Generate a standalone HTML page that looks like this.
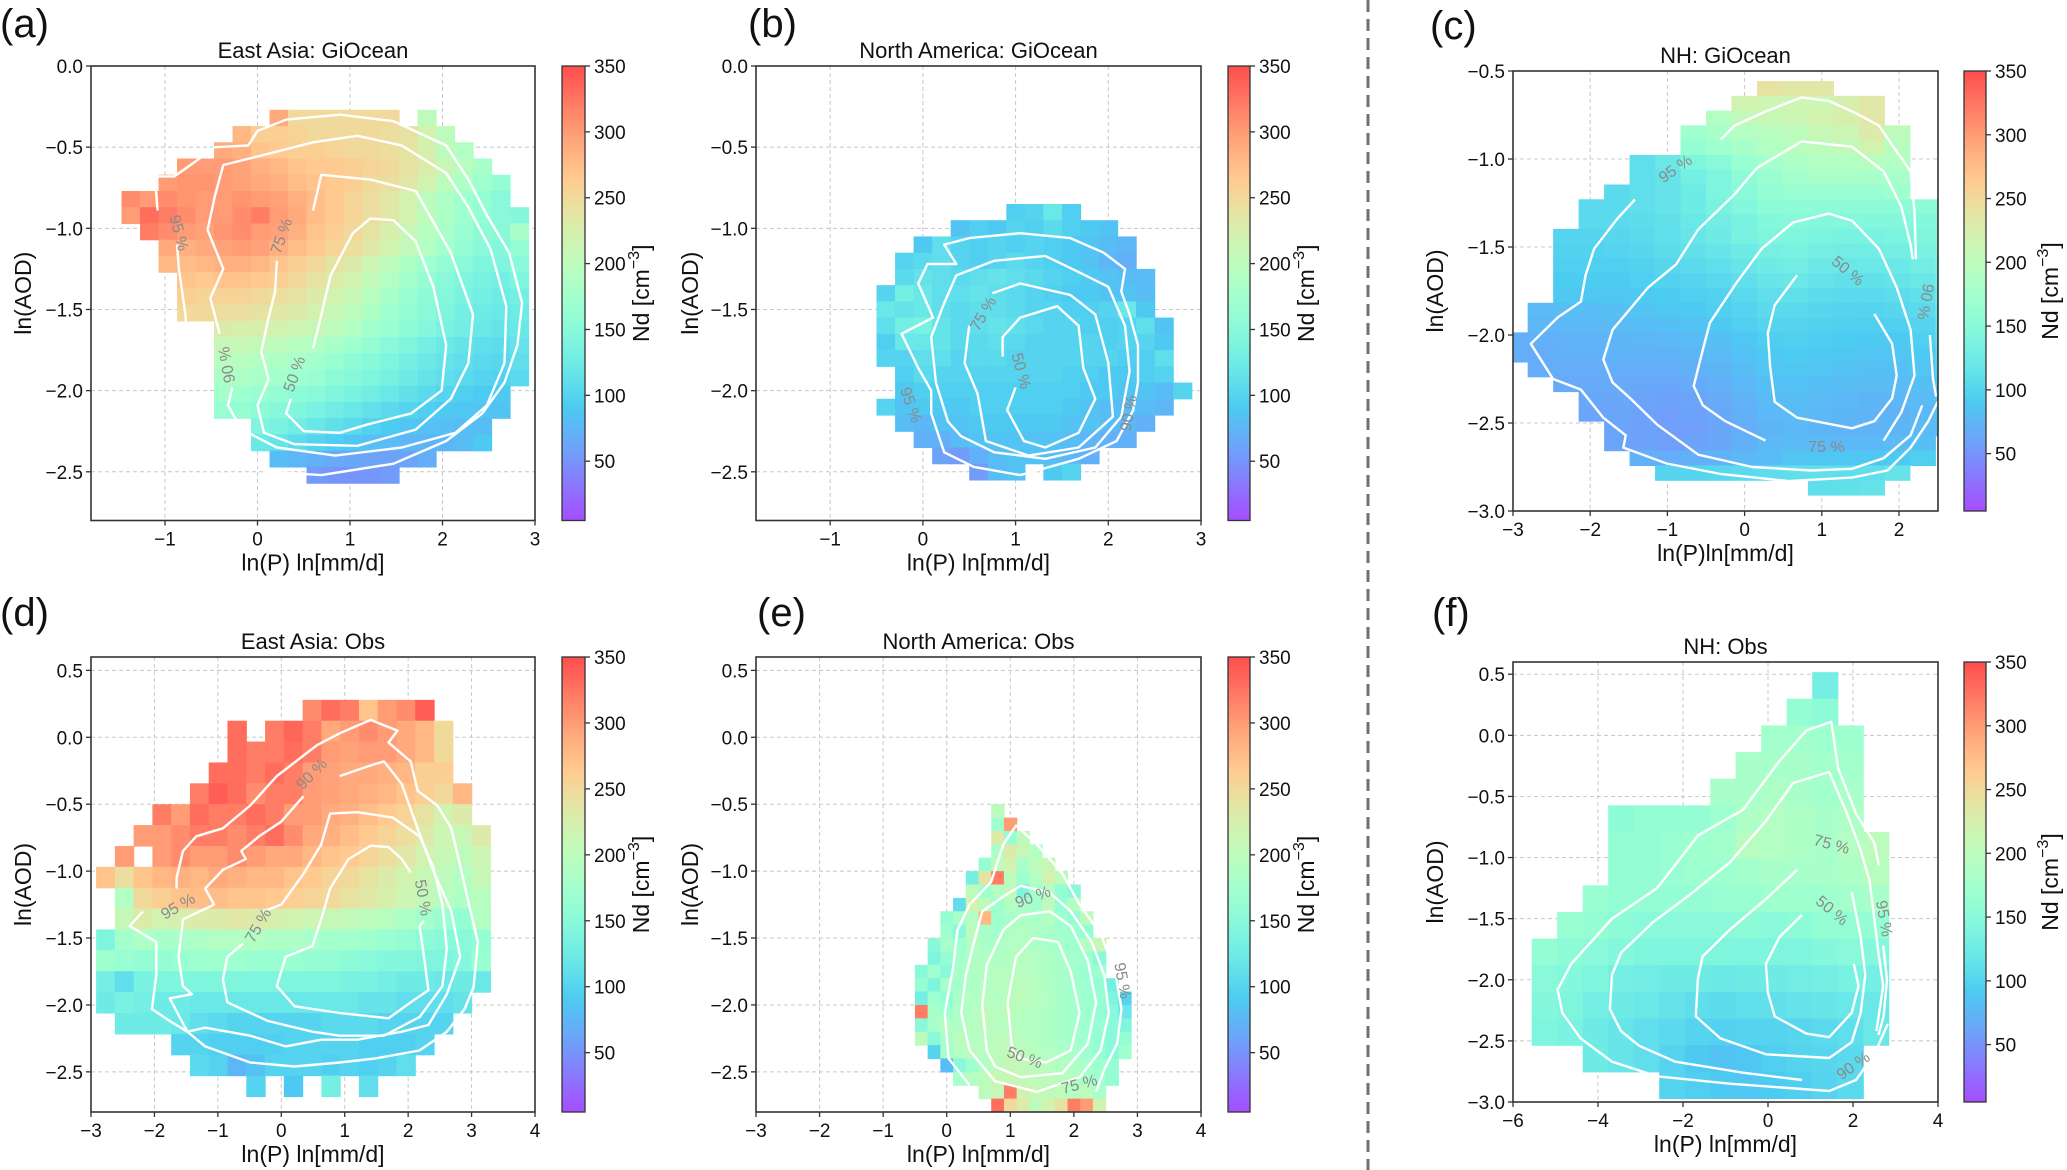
<!DOCTYPE html>
<html><head><meta charset="utf-8"><style>
html,body{margin:0;padding:0;background:#fff;}
svg{display:block;font-family:"Liberation Sans","DejaVu Sans",sans-serif;}
</style></head><body>
<svg id="fig" width="2067" height="1170" viewBox="0 0 2067 1170" xmlns="http://www.w3.org/2000/svg">
<rect width="2067" height="1170" fill="#fff"/>
<line x1="1368" y1="0" x2="1368" y2="1170" stroke="#707070" stroke-width="3" stroke-dasharray="12,7"/>
</svg>
<script>
// ===== Data (Nd values per grid cell; each row = [startCol, values...], 0 = empty) =====
const aGrid=[
[8,290,250,250,250,250,250,250,0,200],
[6,280,260,260,255,250,250,250,250,245,240,220,200],
[5,290,285,270,265,260,260,255,250,250,245,240,225,200,190],
[3,300,300,300,295,285,280,270,265,265,260,255,250,240,230,210,195,180],
[2,300,305,305,300,295,290,285,275,270,265,260,250,245,235,220,200,185,170,160],
[0,310,300,310,305,300,300,305,300,295,285,275,265,255,245,235,220,200,185,170,160,150],
[0,300,330,320,310,300,300,310,320,300,290,275,265,255,245,235,220,200,185,170,160,150,145],
[1,320,310,300,295,305,310,300,295,285,270,260,250,240,225,210,195,180,165,155,150,180],
[2,290,285,290,295,300,295,285,275,265,255,245,235,220,205,190,175,160,150,145,160],
[2,280,275,280,285,285,280,270,260,250,240,230,215,200,185,170,160,150,140,140,150],
[3,270,265,270,270,265,260,250,240,230,220,205,190,175,160,150,140,135,130,140],
[3,260,255,255,255,250,245,240,230,220,210,195,180,165,155,145,135,130,125,130],
[3,250,250,245,245,240,235,230,220,210,200,185,170,160,150,140,130,125,120,125],
[5,230,225,225,220,215,210,200,190,175,165,155,145,135,128,120,115,120],
[5,210,210,205,200,195,190,180,170,160,150,140,130,122,115,110,108,115],
[5,195,195,190,185,180,175,165,155,148,140,130,122,115,110,105,102,110],
[5,185,185,180,175,170,165,155,148,140,132,125,115,110,105,100,98,105],
[5,175,170,165,160,155,150,142,135,128,120,112,105,100,95,92,90],
[5,165,160,155,148,142,135,128,120,113,106,100,95,90,88,86,85],
[7,140,135,128,120,112,105,98,92,88,84,82,80,80],
[7,120,115,108,100,94,88,82,78,75,74,74,80,90],
[8,80,75,70,66,64,62,60,62,68],
[10,55,52,50,52,55]
];
const bGrid=[
[7,95,100,120,95],
[4,85,95,90,100,95,105,95,90,85],
[2,90,110,100,95,100,95,100,95,90,85,80,75],
[1,100,105,110,100,95,100,105,100,95,90,85,75,70],
[1,105,115,110,105,110,115,110,105,100,95,90,85,80,80],
[0,100,130,120,110,110,115,110,105,100,95,90,90,85,85,80],
[0,120,115,120,110,105,110,110,105,100,100,95,95,100,120,90],
[0,110,130,135,115,105,110,115,110,105,100,100,95,95,100,110,85],
[0,95,120,120,115,105,105,110,105,100,100,100,100,95,100,100,90],
[0,100,100,110,110,100,105,105,100,100,100,100,100,100,95,95,110],
[1,95,105,100,100,100,100,100,100,100,95,95,90,90,95,100],
[1,90,95,95,95,95,95,95,95,95,95,90,90,85,85,80,100],
[0,100,85,90,90,90,95,95,95,95,95,90,85,80,80,80,75],
[1,80,75,85,85,90,90,90,90,90,85,85,80,75,70],
[2,70,70,80,85,85,85,85,85,80,75,70,70],
[3,60,55,70,80,85,85,80,75,70],
[5,55,80,85,0,90,100]
];
const cGrid=[
[10,240,235,235],
[9,220,215,215,215,225,235],
[8,190,205,210,215,220,225,235],
[7,170,180,190,195,200,210,215,230,200],
[7,160,170,180,190,195,200,205,220,195],
[5,110,120,140,150,165,175,185,190,190,195,190],
[5,110,115,130,140,155,165,175,180,180,180,180],
[4,105,110,115,125,140,150,160,165,165,165,165,170],
[3,105,105,110,115,125,135,145,155,155,155,155,155,155,155,155],
[3,105,105,108,112,120,128,135,145,148,145,145,145,145,145,148],
[2,100,100,102,105,110,118,125,135,140,140,138,135,135,138,140,145],
[2,98,98,100,102,108,112,118,125,132,135,130,128,128,130,135,140],
[2,95,95,95,98,102,106,110,118,125,128,122,120,120,122,128,135],
[2,92,92,92,95,98,100,104,110,118,120,115,112,112,115,120,130],
[2,90,88,88,90,92,95,98,104,110,112,108,105,105,108,112,125],
[1,78,80,80,82,85,88,90,95,100,105,105,102,100,100,102,106,120],
[1,75,76,76,78,80,82,85,90,95,100,100,98,96,95,96,100,115],
[0,70,70,72,72,74,75,76,78,82,88,94,96,94,92,90,90,95,110],
[0,68,68,70,70,72,72,72,74,78,84,90,92,90,88,86,86,90,105],
[1,68,68,68,68,68,68,70,74,80,86,88,86,84,82,82,86,100],
[2,66,66,66,64,64,66,70,76,82,84,82,80,78,78,82,95],
[3,64,64,62,60,62,66,72,78,80,78,76,74,75,78,90],
[3,62,62,60,58,60,64,70,76,78,76,74,72,72,76,88],
[4,62,60,58,58,62,68,74,76,74,72,72,74,78,85],
[4,62,60,58,60,64,70,76,78,78,76,76,78,82],
[5,70,68,70,72,76,80,86,88,88,88,90,95],
[6,100,100,102,105,108,110,112,110,110,115],
[12,110,112,115]
];
const dGrid=[
[11,310,330,320,270,300,310,340],
[7,330,0,320,335,320,290,300,310,300,290,280,250],
[7,330,320,320,330,320,300,295,300,300,290,280,250],
[6,330,330,320,330,320,300,295,290,290,285,280,260,260],
[5,320,340,330,310,320,320,300,295,290,285,280,270,260,250,280],
[3,320,300,330,320,320,330,320,300,300,290,285,275,265,255,240,220,230],
[2,300,300,310,320,320,310,320,330,310,290,285,275,265,255,245,230,215,210,230],
[1,300,0,300,310,300,300,310,300,290,290,280,270,265,255,245,235,220,210,200,215],
[0,270,245,270,280,285,280,290,285,280,280,270,265,255,250,240,230,220,210,200,190,210],
[1,190,250,260,270,275,275,270,270,265,260,255,250,240,235,225,215,205,195,185,195],
[1,210,230,220,225,230,230,235,230,225,220,215,210,205,200,195,185,175,165,160,190],
[0,140,175,185,180,180,185,190,190,190,185,185,180,175,175,170,165,160,155,150,150,160],
[0,170,165,160,160,165,170,170,170,165,165,165,160,160,155,150,145,145,140,140,145,165],
[0,130,110,135,140,140,140,140,140,140,140,140,140,140,135,135,130,125,125,120,125,120],
[0,125,135,130,125,125,120,120,120,120,120,120,120,120,120,115,115,110,110,110,115],
[1,125,125,125,120,110,105,100,100,100,100,100,105,105,105,100,100,100,100],
[4,100,100,95,95,95,95,100,100,100,100,95,95,95,100],
[5,105,100,75,85,100,100,100,95,100,95,100,110],
[8,100,0,90,0,130,0,110]
];
const eGrid=[
[6,200],
[6,170,300],
[6,230,160,200],
[6,180,230,210,190],
[5,160,200,220,180,200,210],
[4,130,240,320,200,170,190,220,200],
[4,200,170,190,200,140,180,190,160,150],
[3,110,220,200,170,190,180,175,200,160,190],
[2,160,180,190,280,170,180,185,180,190,170,160,200],
[2,170,150,200,180,175,185,190,185,180,175,170,160],
[1,150,180,170,190,180,185,190,190,185,180,175,170,190,210],
[1,140,160,175,185,190,185,190,195,190,185,180,175,170,150],
[0,150,170,150,180,185,190,195,190,195,190,185,180,175,165,170],
[0,160,140,180,175,185,190,195,195,200,195,185,180,175,170,160,130],
[0,130,170,160,180,190,195,190,200,200,195,190,180,175,170,165,140,100],
[0,320,180,170,185,190,200,195,200,195,190,185,180,175,170,160,150,120],
[0,150,180,190,185,195,200,195,195,190,190,185,180,175,170,165,150,140],
[0,200,150,180,200,190,195,200,200,195,190,185,180,175,170,160,150,160],
[1,100,180,190,200,195,200,205,200,195,190,185,180,170,160,150,170],
[2,80,150,170,190,200,210,205,200,195,190,185,180,170,160],
[3,180,190,200,210,210,205,200,200,195,190,180,170,160],
[5,200,210,320,220,210,205,200,190,200,180],
[5,0,330,250,230,200,220,240,320,300,220]
];
const fGrid=[
[11,130],
[10,160,155],
[9,175,175,170,170],
[8,180,180,180,175,175],
[7,180,180,185,180,175,180],
[3,155,160,160,160,170,185,190,185,180,185],
[3,160,160,165,170,175,195,190,185,180,190,200],
[3,160,160,165,170,170,175,180,180,180,185,195],
[2,165,160,160,160,160,165,165,170,170,170,175,180],
[1,165,160,155,150,150,150,150,155,150,155,160,160,160],
[0,160,155,150,145,140,140,140,140,140,140,140,145,150,145],
[0,150,145,140,130,128,125,125,122,125,125,128,130,135,130],
[0,145,140,130,125,120,115,110,108,110,112,115,118,120,120],
[0,140,135,125,118,110,105,100,98,100,100,102,105,110,120],
[2,125,118,110,100,90,85,88,95,100,102,105],
[5,100,95,90,88,92,95,100,105]
];
// Contour lines (data coordinates [lnP, lnAOD])
const aContours=[
[[-0.87,-1.1],[-0.85,-1.25],[-0.78,-1.53],[-0.75,-1.83],[-0.66,-2.05],[-0.46,-2.24],[-0.22,-2.38],[0.12,-2.5],[0.69,-2.52],[1.47,-2.45],[2.04,-2.31],[2.43,-2.14],[2.67,-1.95],[2.81,-1.72],[2.86,-1.46],[2.72,-1.15],[2.48,-0.92],[2.28,-0.7],[2.04,-0.49],[1.47,-0.34],[0.89,-0.3],[0.31,-0.33],[0,-0.4],[-0.1,-0.49],[-0.46,-0.5],[-0.7,-0.6],[-0.9,-0.68],[-1.11,-0.68],[-1.08,-0.89]],
[[-0.27,-1.98],[-0.32,-2.09],[-0.17,-2.24],[0.21,-2.35],[0.84,-2.4],[1.56,-2.35],[2.14,-2.26],[2.48,-2.09],[2.67,-1.83],[2.69,-1.48],[2.52,-1.13],[2.28,-0.87],[2.04,-0.66],[1.56,-0.49],[1.08,-0.43],[0.6,-0.47],[0.12,-0.54],[-0.37,-0.61],[-0.46,-0.8],[-0.54,-1.01],[-0.37,-1.25],[-0.51,-1.43],[-0.41,-1.65]],
[[0.21,-1.2],[0.19,-1.39],[0.12,-1.55],[0.04,-1.76],[0.12,-1.93],[0,-2.09],[0.07,-2.26],[0.4,-2.33],[1.08,-2.34],[1.71,-2.24],[2.09,-2.05],[2.28,-1.83],[2.33,-1.53],[2.09,-1.15],[1.71,-0.77],[1.22,-0.7],[0.69,-0.67],[0.6,-0.89]],
[[0.6,-1.74],[0.67,-1.58],[0.79,-1.29],[1.03,-1.03],[1.22,-0.94],[1.47,-0.95],[1.71,-1.08],[1.9,-1.36],[2.04,-1.72],[1.99,-2.0],[1.66,-2.14],[1.18,-2.21],[0.89,-2.26],[0.5,-2.25],[0.31,-2.14],[0.36,-2.05]]
];
const aLabels=[["95 %",-0.86,-1.03,75],["90 %",-0.32,-1.84,-100],["75 %",0.27,-1.05,-70],["50 %",0.41,-1.9,-70]];
const bContours=[
[[0.09,-2.14],[0.09,-2.0],[-0.05,-1.86],[-0.23,-1.65],[0.11,-1.55],[-0.05,-1.34],[0.05,-1.22],[0.36,-1.22],[0.23,-1.1],[0.5,-1.06],[1.05,-1.03],[1.59,-1.06],[1.95,-1.15],[2.18,-1.25],[2.14,-1.39],[2.23,-1.53],[2.32,-1.72],[2.32,-1.95],[2.27,-2.12],[2.09,-2.31],[1.68,-2.42],[1.05,-2.52],[0.55,-2.47],[0.23,-2.38],[0.09,-2.14]],
[[0.27,-2.19],[0.14,-1.95],[0.09,-1.67],[0.23,-1.46],[0.36,-1.29],[0.77,-1.2],[1.32,-1.17],[1.68,-1.27],[2.0,-1.36],[2.18,-1.6],[2.23,-1.88],[2.14,-2.16],[1.86,-2.35],[1.32,-2.42],[0.77,-2.38],[0.41,-2.28],[0.27,-2.19]],
[[0.5,-1.6],[0.45,-1.83],[0.59,-2.02],[0.68,-2.31],[1.14,-2.4],[1.68,-2.35],[2.05,-2.16],[2.0,-1.83],[1.86,-1.53],[1.59,-1.41],[1.05,-1.34],[0.75,-1.4]],
[[0.86,-1.79],[0.86,-1.67],[1.05,-1.55],[1.45,-1.48],[1.68,-1.6],[1.73,-1.86],[1.86,-2.05],[1.68,-2.26],[1.32,-2.35],[1.09,-2.31],[0.91,-2.12],[1.0,-1.98]]
];
const bLabels=[["75 %",0.66,-1.53,-60],["50 %",1.05,-1.88,75],["95 %",-0.14,-2.09,70],["90 %",2.23,-2.14,-80]];
const cContours=[
[[-1.42,-1.23],[-1.65,-1.34],[-1.95,-1.51],[-2.06,-1.66],[-2.12,-1.81],[-2.42,-1.9],[-2.77,-2.05],[-2.48,-2.25],[-2.12,-2.31],[-1.83,-2.47],[-1.54,-2.57],[-1.57,-2.64],[-1.01,-2.73],[-0.31,-2.79],[0.57,-2.83],[1.39,-2.81],[1.85,-2.77],[2.15,-2.64],[2.38,-2.49],[2.5,-2.38]],
[[-0.31,-0.89],[-0.13,-0.81],[0.27,-0.73],[0.74,-0.65],[1.09,-0.67],[1.44,-0.74],[1.74,-0.81],[1.91,-0.92],[2.15,-1.07],[2.2,-1.3],[2.22,-1.57]],
[[2.4,-2.0],[2.44,-2.25],[2.48,-2.35]],
[[0.16,-1.05],[-0.13,-1.2],[-0.6,-1.4],[-0.89,-1.6],[-1.25,-1.73],[-1.71,-1.97],[-1.83,-2.14],[-1.71,-2.27],[-1.48,-2.36],[-1.13,-2.51],[-0.6,-2.68],[0.1,-2.75],[0.86,-2.77],[1.39,-2.76],[1.8,-2.7],[2.15,-2.57],[2.3,-2.4]],
[[0.16,-1.05],[0.74,-0.9],[1.39,-0.93],[1.8,-1.07],[2.03,-1.27],[2.15,-1.49],[2.18,-1.57]],
[[0.27,-2.6],[-0.25,-2.49],[-0.54,-2.4],[-0.66,-2.29],[-0.55,-2.1],[-0.45,-1.93],[-0.1,-1.7],[0.22,-1.51],[0.63,-1.36],[1.09,-1.31],[1.39,-1.35],[1.74,-1.51],[1.97,-1.73],[2.15,-1.97],[2.2,-2.23],[2.03,-2.44],[1.8,-2.6]],
[[0.68,-1.66],[0.39,-1.83],[0.3,-1.99],[0.33,-2.18],[0.39,-2.38],[0.68,-2.47],[1.39,-2.53],[1.68,-2.49],[1.91,-2.36],[1.97,-2.23],[1.91,-2.05],[1.68,-1.88]]
];
const cLabels=[["95 %",-0.89,-1.06,-35],["50 %",1.33,-1.64,40],["90 %",2.33,-1.81,100],["75 %",1.06,-2.64,0]];
const dContours=[
[[-2.18,-1.3],[-2.39,-1.41],[-1.97,-1.53],[-1.97,-1.78],[-2.04,-2.03],[-1.76,-2.12],[-1.48,-2.2],[-1.2,-2.31],[-0.49,-2.43],[0.21,-2.46],[0.92,-2.43],[1.48,-2.4],[2.18,-2.34],[2.61,-2.2],[2.89,-2.03],[3.03,-1.87],[3.1,-1.53],[2.96,-1.25],[2.82,-0.96],[2.68,-0.68],[2.46,-0.51],[2.15,-0.4],[2.04,-0.18],[1.69,-0.04],[1.83,0.05],[1.41,0.13],[0.92,0.03],[0.56,-0.06],[-0.07,-0.29],[-0.49,-0.51],[-0.92,-0.68],[-1.34,-0.74],[-1.55,-0.85],[-1.65,-1.05],[-1.65,-1.13]],
[[0.35,-0.44],[0,-0.63],[-0.35,-0.74],[-0.63,-0.85],[-0.56,-0.91],[-0.92,-0.99],[-1.2,-1.13],[-1.06,-1.25],[-1.55,-1.36],[-1.62,-1.64],[-1.55,-1.86],[-1.41,-1.92],[-1.76,-1.95],[-1.48,-2.2],[-1.2,-2.17],[-0.49,-2.23],[0.07,-2.31],[0.63,-2.26],[1.2,-2.26],[1.9,-2.2],[2.32,-2.15],[2.61,-1.92],[2.82,-1.64],[2.68,-1.3],[2.39,-0.99],[2.11,-0.63],[1.9,-0.35],[1.62,-0.18],[1.41,-0.21],[0.92,-0.29]],
[[-0.28,-1.3],[0,-1.25],[0.35,-1.02],[0.63,-0.8],[0.77,-0.57],[1.2,-0.56],[1.76,-0.6],[2.18,-0.74],[2.39,-0.96],[2.54,-1.25],[2.61,-1.58],[2.54,-1.86],[2.18,-2.09],[1.62,-2.23],[0.92,-2.23],[0.49,-2.2],[-0.21,-2.12],[-0.85,-1.98],[-0.92,-1.81],[-0.85,-1.64],[-0.6,-1.54]],
[[2.04,-1.01],[1.9,-0.91],[1.69,-0.82],[1.41,-0.81],[1.06,-0.91],[0.77,-1.13],[0.63,-1.36],[0.49,-1.56],[0.07,-1.64],[-0.07,-1.86],[0.21,-2.01],[0.92,-2.06],[1.69,-2.1],[2.04,-1.98],[2.32,-1.89],[2.25,-1.64],[2.18,-1.41],[2.25,-1.37]]
];
const dLabels=[["90 %",0.49,-0.28,-45],["95 %",-1.62,-1.27,-30],["75 %",-0.35,-1.41,-60],["50 %",2.22,-1.2,80]];
const eContours=[
[[0.36,-2.6],[0.03,-2.4],[-0.03,-2.06],[0.1,-1.72],[0.17,-1.44],[0.36,-1.25],[0.7,-1.08],[0.89,-0.8],[1.09,-0.66],[1.42,-0.8],[1.82,-1.02],[2.09,-1.25],[2.42,-1.47],[2.65,-1.75],[2.75,-2.03],[2.68,-2.29],[2.48,-2.48],[2.35,-2.65]],
[[0.36,-2.34],[0.23,-2.06],[0.3,-1.78],[0.43,-1.53],[0.56,-1.3],[0.89,-1.19],[1.16,-1.11],[1.62,-1.16],[1.95,-1.3],[2.28,-1.53],[2.48,-1.78],[2.55,-2.06],[2.42,-2.34],[2.09,-2.54],[1.42,-2.65],[0.76,-2.57],[0.36,-2.34]],
[[0.63,-2.34],[0.56,-2.0],[0.63,-1.7],[0.89,-1.44],[1.16,-1.33],[1.62,-1.3],[1.95,-1.41],[2.22,-1.67],[2.35,-1.98],[2.22,-2.29],[1.82,-2.51],[1.16,-2.54],[0.76,-2.46],[0.63,-2.34]],
[[1.03,-2.34],[0.96,-1.98],[1.09,-1.64],[1.36,-1.5],[1.75,-1.53],[1.95,-1.75],[2.09,-2.06],[1.95,-2.34],[1.56,-2.43],[1.16,-2.4],[1.03,-2.34]]
];
const eLabels=[["90 %",1.36,-1.2,-20],["95 %",2.75,-1.82,80],["50 %",1.22,-2.4,20],["75 %",2.09,-2.6,-15]];
const fContours=[
[[2.61,-1.07],[2.5,-0.88],[2.07,-0.64],[1.65,-0.27],[1.49,0.11],[0.9,0.04],[0.27,-0.21],[-0.59,-0.61],[-0.9,-0.67],[-1.65,-0.82],[-2.61,-1.25],[-3.67,-1.5],[-4.63,-1.87],[-4.95,-2.08],[-4.84,-2.27],[-4.41,-2.48],[-3.67,-2.67],[-2.61,-2.79],[-0.9,-2.85],[1.44,-2.91],[2.07,-2.82],[2.5,-2.61],[2.82,-2.36]],
[[2.71,-1.72],[2.8,-2.0],[2.72,-2.3],[2.6,-2.45]],
[[0.8,-2.82],[-0.59,-2.76],[-2.18,-2.67],[-3.03,-2.54],[-3.46,-2.42],[-3.72,-2.24],[-3.67,-1.96],[-3.46,-1.78],[-2.71,-1.53],[-1.86,-1.31],[-0.9,-1.04],[-0.05,-0.7],[0.59,-0.39],[1.44,-0.3],[1.86,-0.64],[2.18,-0.94],[2.39,-1.19],[2.5,-1.5],[2.61,-1.81],[2.71,-2.05],[2.55,-2.42]],
[[0.69,-1.1],[-0.05,-1.34],[-0.9,-1.59],[-1.54,-1.81],[-1.65,-1.99],[-1.7,-2.3],[-1.12,-2.48],[-0.05,-2.61],[1.44,-2.64],[1.97,-2.51],[2.18,-2.27],[2.29,-1.96],[2.18,-1.65],[1.97,-1.28]],
[[0.8,-1.47],[0.27,-1.65],[-0.05,-1.87],[0,-2.11],[0.16,-2.3],[0.9,-2.44],[1.44,-2.47],[1.97,-2.27],[2.13,-2.05],[2.02,-1.87]]
];
const fLabels=[["75 %",1.49,-0.9,15],["50 %",1.49,-1.44,40],["95 %",2.71,-1.5,80],["90 %",2.02,-2.71,-35]];
const cbTicks=[50,100,150,200,250,300,350];

// ===== Panel geometry =====
const panels=[
 {id:"a",grid:aGrid,x0:-1.47,dx:0.2,y0:-0.27,dy:0.1,con:aContours,lab:aLabels,l:91,r:535,t:66,b:520.5,xl:[-1.8,3],yl:[-2.8,0],xt:[-1,0,1,2,3],yt:[0,-0.5,-1,-1.5,-2,-2.5],cbx:562,cbw:23,cbl:643,title:"East Asia: GiOcean",lx:0,ly:37,ylx:25,xlab:"ln(P) ln[mm/d]"},
 {id:"b",grid:bGrid,x0:-0.5,dx:0.2,y0:-0.85,dy:0.1,con:bContours,lab:bLabels,l:756,r:1201,t:66,b:520.5,xl:[-1.8,3],yl:[-2.8,0],xt:[-1,0,1,2,3],yt:[0,-0.5,-1,-1.5,-2,-2.5],cbx:1228,cbw:22,cbl:1308,title:"North America: GiOcean",lx:748,ly:37,ylx:692,xlab:"ln(P) ln[mm/d]"},
 {id:"c",grid:cGrid,x0:-3.14,dx:0.33,y0:-0.557,dy:0.084,con:cContours,lab:cLabels,l:1513,r:1938,t:71,b:511,xl:[-3,2.505],yl:[-3,-0.5],xt:[-3,-2,-1,0,1,2],yt:[-0.5,-1,-1.5,-2,-2.5,-3],cbx:1964,cbw:22,cbl:2052,title:"NH: GiOcean",lx:1430,ly:39,ylx:1437,xlab:"ln(P)ln[mm/d]"},
 {id:"d",grid:dGrid,x0:-2.92,dx:0.296,y0:0.28,dy:0.156,con:dContours,lab:dLabels,l:91,r:535,t:657,b:1112,xl:[-3,4],yl:[-2.8,0.6],xt:[-3,-2,-1,0,1,2,3,4],yt:[0.5,0,-0.5,-1,-1.5,-2,-2.5],cbx:562,cbw:23,cbl:643,title:"East Asia: Obs",lx:0,ly:626,ylx:25,xlab:"ln(P) ln[mm/d]"},
 {id:"e",grid:eGrid,x0:-0.5,dx:0.2,y0:-0.5,dy:0.1,con:eContours,lab:eLabels,l:756,r:1201,t:657,b:1112,xl:[-3,4],yl:[-2.8,0.6],xt:[-3,-2,-1,0,1,2,3,4],yt:[0.5,0,-0.5,-1,-1.5,-2,-2.5],cbx:1228,cbw:22,cbl:1308,title:"North America: Obs",lx:757,ly:626,ylx:692,xlab:"ln(P) ln[mm/d]"},
 {id:"f",grid:fGrid,x0:-5.56,dx:0.6,y0:0.517,dy:0.218,con:fContours,lab:fLabels,l:1513,r:1938,t:662,b:1102,xl:[-6,4],yl:[-3,0.6],xt:[-6,-4,-2,0,2,4],yt:[0.5,0,-0.5,-1,-1.5,-2,-2.5,-3],cbx:1964,cbw:22,cbl:2052,title:"NH: Obs",lx:1432,ly:626,ylx:1437,xlab:"ln(P) ln[mm/d]"}
];
const VMIN=5,VMAX=350,ALPHA=0.7;
function rainbow(t){t=Math.max(0,Math.min(1,t));
 const r=Math.min(1,Math.abs(2*t-0.5)),g=Math.sin(Math.PI*t),b=Math.cos(Math.PI*t/2);
 const f=v=>Math.round(255*(ALPHA*v+(1-ALPHA)));
 return `rgb(${f(r)},${f(g)},${f(b)})`;}
const NS="http://www.w3.org/2000/svg";
const svg=document.getElementById("fig");
function mk(tag,attrs,parent){const e=document.createElementNS(NS,tag);for(const k in attrs)e.setAttribute(k,attrs[k]);(parent||svg).appendChild(e);return e;}
function fmt(v,d){const s=d?Math.abs(v).toFixed(1):String(Math.abs(v));return (v<0?"\u2212":"")+s;}
const defs=mk("defs",{});
const grad=mk("linearGradient",{id:"cbgrad",x1:"0",y1:"1",x2:"0",y2:"0"},defs);
for(let i=0;i<=40;i++){mk("stop",{offset:(i/40),"stop-color":rainbow(i/40)},grad);}

panels.forEach(p=>{
 const g=mk("g",{});
 
 
 const X=v=>p.l+(v-p.xl[0])/(p.xl[1]-p.xl[0])*(p.r-p.l);
 const Y=v=>p.b-(v-p.yl[0])/(p.yl[1]-p.yl[0])*(p.b-p.t);
 const cp=mk("clipPath",{id:"clip"+p.id},defs);
 mk("rect",{x:p.l,y:p.t,width:p.r-p.l,height:p.b-p.t},cp);
 p.xt.forEach(v=>{const l=mk("line",{x1:X(v),x2:X(v),y1:p.t,y2:p.b,stroke:"#c8c8c8","stroke-width":1,"stroke-dasharray":"4,3"},g);
  });
 p.yt.forEach(v=>{const l=mk("line",{x1:p.l,x2:p.r,y1:Y(v),y2:Y(v),stroke:"#c8c8c8","stroke-width":1,"stroke-dasharray":"4,3"},g);
  });
 const hm=mk("g",{"clip-path":`url(#clip${p.id})`},g);
 
 
 p.grid.forEach((row,ri)=>{
  const yTop=p.y0-ri*p.dy,yBot=yTop-p.dy;
  for(let k=1;k<row.length;k++){const v=row[k];if(!v)continue;
   const c=row[0]+k-1;const xa=p.x0+c*p.dx,xb=xa+p.dx;
   const r=mk("rect",{x:X(xa),y:Y(yTop),width:X(xb)-X(xa)+0.6,height:Y(yBot)-Y(yTop)+0.6,fill:rainbow((v-VMIN)/(VMAX-VMIN))},hm);
   
   
  }});
 p.con.forEach(line=>{
  const pl=mk("polyline",{points:line.map(q=>X(q[0]).toFixed(1)+","+Y(q[1]).toFixed(1)).join(" "),fill:"none",stroke:"#fff","stroke-width":2.4,"stroke-linejoin":"round","clip-path":`url(#clip${p.id})`},g);
  
  
 });
 p.lab.forEach(L=>{
  const t=mk("text",{x:X(L[1]),y:Y(L[2]),"font-size":16,fill:"#8a8a8a","text-anchor":"middle","dominant-baseline":"middle",transform:`rotate(${L[3]} ${X(L[1])} ${Y(L[2])})`},g);
  t.textContent=L[0];
  
  
 });
 const fr=mk("rect",{x:p.l,y:p.t,width:p.r-p.l,height:p.b-p.t,fill:"none",stroke:"#333","stroke-width":1.6},g);
 
 p.xt.forEach(v=>{mk("line",{x1:X(v),x2:X(v),y1:p.b,y2:p.b+5,stroke:"#333","stroke-width":1.3},g);
  const t=mk("text",{x:X(v),y:p.b+25,"font-size":19,"text-anchor":"middle",fill:"#111"},g);t.textContent=fmt(v,false);
  });
 p.yt.forEach(v=>{mk("line",{x1:p.l-5,x2:p.l,y1:Y(v),y2:Y(v),stroke:"#333","stroke-width":1.3},g);
  const t=mk("text",{x:p.l-8,y:Y(v)+7,"font-size":19,"text-anchor":"end",fill:"#111"},g);t.textContent=fmt(v,true);
  });
 const ti=mk("text",{x:(p.l+p.r)/2,y:p.t-8,"font-size":22,"text-anchor":"middle",fill:"#111"},g);ti.textContent=p.title;
 
 const pl=mk("text",{x:p.lx,y:p.ly,"font-size":40,fill:"#111"},g);pl.textContent="("+p.id+")";
 
 const xlb=mk("text",{x:(p.l+p.r)/2,y:p.b+50,"font-size":23,"text-anchor":"middle",fill:"#111"},g);xlb.textContent=p.xlab;
 
 const cy=(p.t+p.b)/2;
 const ylb=mk("text",{x:p.ylx,y:cy,"font-size":23,"text-anchor":"middle","dominant-baseline":"middle",transform:`rotate(-90 ${p.ylx} ${cy})`,fill:"#111"},g);ylb.textContent="ln(AOD)";
 
 const cb=mk("rect",{x:p.cbx,y:p.t,width:p.cbw,height:p.b-p.t,fill:"url(#cbgrad)",stroke:"#333","stroke-width":1.3},g);
 
 const CY=v=>p.b-(v-VMIN)/(VMAX-VMIN)*(p.b-p.t);
 cbTicks.forEach(v=>{mk("line",{x1:p.cbx+p.cbw,x2:p.cbx+p.cbw+5,y1:CY(v),y2:CY(v),stroke:"#333","stroke-width":1.3},g);
  const t=mk("text",{x:p.cbx+p.cbw+9,y:CY(v)+7,"font-size":19,fill:"#111"},g);t.textContent=v;
  });
 const cl=mk("text",{x:p.cbl,y:cy,"font-size":23,"text-anchor":"middle","dominant-baseline":"middle",transform:`rotate(-90 ${p.cbl} ${cy})`,fill:"#111"},g);
 cl.innerHTML='Nd [cm<tspan baseline-shift="super" font-size="16">\u22123</tspan>]';
 
});
</script>
</body></html>
